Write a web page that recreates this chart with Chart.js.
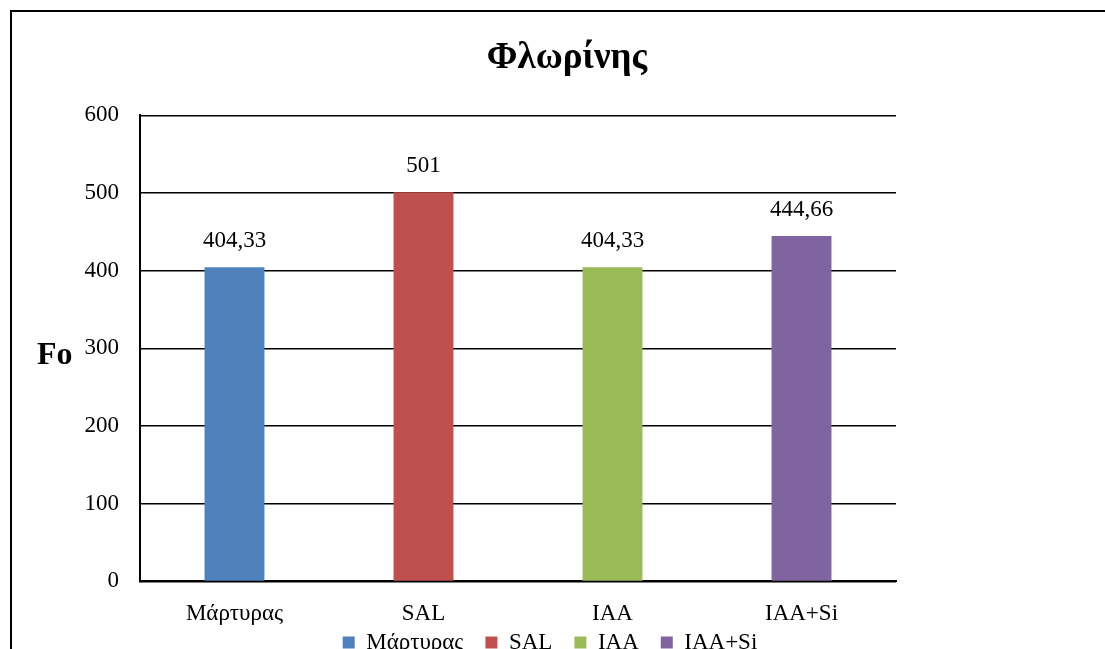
<!DOCTYPE html>
<html lang="el">
  <head>
    <meta charset="UTF-8" />
    <title>Φλωρίνης</title>
    <style>
      html, body { margin: 0; padding: 0; overflow: hidden; background: #fff; }
      #frame {
        position: absolute; left: 10px; top: 10px;
        width: 1120px; height: 700px;
        border-left: 2px solid #000; border-top: 2px solid #000;
      }
      #wrap { position: absolute; left: 12px; top: 12px; width: 1110px; height: 690px; }
    </style>
  </head>
  <body>
    <div id="frame"></div>
    <div id="wrap"><canvas id="myChart"></canvas></div>
  </body>
</html>
<script src="https://cdn.jsdelivr.net/npm/chart.js"></script>

<script>
  const categories = ["Μάρτυρας", "SAL", "IAA", "IAA+Si"];
  const values = [404.33, 501, 404.33, 444.66];
  const colors = ["#4F81BD", "#C0504D", "#9BBB59", "#8064A2"];
  const yTicks = [0, 100, 200, 300, 400, 500, 600];

  const serif = "'Liberation Serif', 'Times New Roman', serif";

  function fmt(v) {
    return String(v).replace(".", ",");
  }

  // value labels above the bars + horizontal "Fo" axis title
  const extras = {
    id: "extras",
    afterLayout(chart) {
      // legend sits closer to the axis labels than its item spacing allows
      chart.legend.top -= 38;
      chart.legend.bottom -= 38;
      chart.legend.left -= 17;
      chart.legend.right -= 17;
    },
    afterDatasetsDraw(chart) {
      const ctx = chart.ctx;
      const meta = chart.getDatasetMeta(0);
      ctx.save();
      ctx.fillStyle = "#000";
      ctx.font = "23px " + serif;
      ctx.textAlign = "center";
      ctx.textBaseline = "middle";
      meta.data.forEach((bar, i) => {
        ctx.fillText(fmt(values[i]), bar.x, bar.y - 26);
      });
      const area = chart.chartArea;
      ctx.font = "bold 32px " + serif;
      ctx.textAlign = "left";
      ctx.fillText("Fo", 25, (area.top + area.bottom) / 2 + 7);
      ctx.restore();
    },
  };

  const ctx = document.getElementById("myChart").getContext("2d");
  const myChart = new Chart(ctx, {
    type: "bar",
    data: {
      labels: categories,
      datasets: [
        {
          data: values,
          backgroundColor: colors,
          categoryPercentage: 1,
          barPercentage: 0.317,
        },
      ],
    },
    plugins: [extras],
    options: {
      responsive: true,
      maintainAspectRatio: false,
      animation: false,
      layout: { padding: 0 },
      plugins: {
        title: {
          display: true,
          text: "Φλωρίνης",
          color: "#000",
          font: { family: serif, size: 37, weight: "bold" },
          padding: { top: 24, bottom: 35 },
        },
        legend: {
          position: "bottom",
          labels: {
            color: "#000",
            font: { family: serif, size: 23 },
            boxWidth: 12,
            boxHeight: 12,
            padding: 22,
            generateLabels: (chart) =>
              categories.map((c, i) => ({
                text: c,
                fillStyle: colors[i],
                strokeStyle: colors[i],
                lineWidth: 0,
                index: i,
              })),
          },
        },
        tooltip: { enabled: false },
      },
      scales: {
        x: {
          grid: { display: false, drawTicks: false },
          border: { color: "#000", width: 2 },
          ticks: { color: "#000", font: { family: serif, size: 23 }, padding: 19 },
        },
        y: {
          min: 0,
          max: 600,
          afterBuildTicks: (scale) => {
            scale.ticks = yTicks.map((v) => ({ value: v }));
          },
          afterFit: (scale) => {
            scale.width = 128;
          },
          grid: { color: "#000", lineWidth: 1.5, drawTicks: false },
          border: { color: "#000", width: 2 },
          ticks: { color: "#000", font: { family: serif, size: 23 }, padding: 21 },
        },
        // empty right-hand space, as in the original sheet
        spacer: {
          type: "linear",
          position: "right",
          display: true,
          grid: { display: false },
          border: { display: false },
          ticks: { display: false },
          afterFit: (scale) => {
            scale.width = 226;
          },
        },
      },
    },
  });
</script>
